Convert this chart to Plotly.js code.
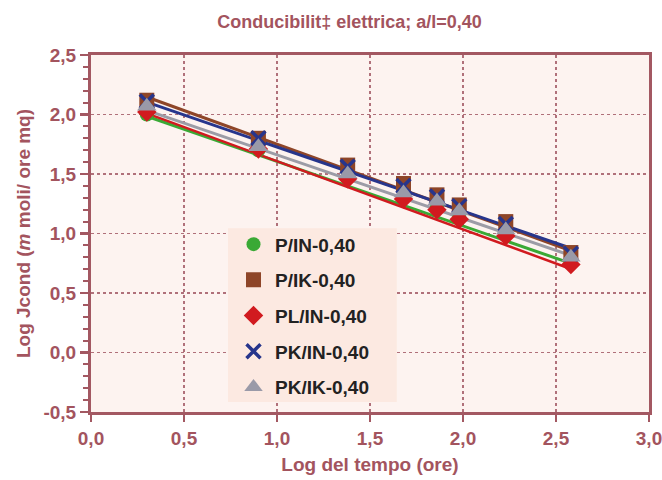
<!DOCTYPE html>
<html>
<head>
<meta charset="utf-8">
<script src="https://cdn.plot.ly/plotly-3.0.1.min.js"></script>
<style>html,body{margin:0;padding:0;background:#fff;}#chart{width:662px;height:480px;}</style>
</head>
<body>
<div id="chart"></div>
<script>
// Data
var logTempo = [0.30, 0.90, 1.38, 1.68, 1.86, 1.98, 2.23, 2.58];
var seriesNames = ["P/IN-0,40", "P/IK-0,40", "PL/IN-0,40", "PK/IN-0,40", "PK/IK-0,40"];
var P_IN  = [2.00, 1.70, 1.47, 1.31, 1.22, 1.14, 1.00, 0.76];
var P_IK  = [2.12, 1.80, 1.575, 1.42, 1.325, 1.24, 1.10, 0.84];
var PL_IN = [2.02, 1.71, 1.46, 1.29, 1.20, 1.12, 0.98, 0.74];
var PK_IN = [2.11, 1.80, 1.56, 1.40, 1.31, 1.23, 1.08, 0.83];
var PK_IK = [2.07, 1.73, 1.50, 1.34, 1.27, 1.19, 1.03, 0.80];
// Trend line end points
var trendX = [0.30, 2.58];
var trend_P_IN  = [1.985, 0.749];
var trend_P_IK  = [2.147, 0.855];
var trend_PL_IN = [2.009, 0.702];
var trend_PK_IN = [2.104, 0.876];
var trend_PK_IK = [2.035, 0.815];
var xTicks = [0, 0.5, 1, 1.5, 2, 2.5, 3];
var xTickLabels = ["0,0", "0,5", "1,0", "1,5", "2,0", "2,5", "3,0"];
var yTicks = [-0.5, 0, 0.5, 1, 1.5, 2, 2.5];
var yTickLabels = ["-0,5", "0,0", "0,5", "1,0", "1,5", "2,0", "2,5"];

var seriesY = [P_IN, P_IK, PL_IN, PK_IN, PK_IK];
var trendY = [trend_P_IN, trend_P_IK, trend_PL_IN, trend_PK_IN, trend_PK_IK];
var colors = ["#3aa935", "#8e4528", "#d11a1f", "#27358c", "#9a9aa8"];
var lineColors = ["#3aa935", "#8e4528", "#d11a1f", "#27358c", "#9c9ca6"];
var lineWidths = [3, 3, 2.5, 3, 3];
var symbols = ["circle", "square", "diamond", "x-thin-open", "triangle-up"];
var sizes = [14, 15, 15, 14, 17];

var traces = [];
for (var i = 0; i < 5; i++) {
  traces.push({
    x: trendX, y: trendY[i], mode: "lines", type: "scatter",
    line: {color: lineColors[i], width: lineWidths[i]},
    showlegend: false, hoverinfo: "skip"
  });
}
for (var j = 0; j < 5; j++) {
  var mk = {symbol: symbols[j], size: sizes[j], color: colors[j]};
  if (symbols[j] === "x-thin-open") { mk.line = {color: colors[j], width: 3.5}; }
  else { mk.line = {width: 0}; }
  traces.push({
    x: logTempo, y: seriesY[j], mode: "markers", type: "scatter",
    name: seriesNames[j], legendgroup: "g" + j,
    marker: mk
  });
}

var axisColor = "#a35862";
var txtColor = "#a3545e";
var fontFam = "'Liberation Sans', Arial, sans-serif";

var layout = {
  width: 662, height: 480,
  margin: {l: 91, r: 13, t: 55, b: 68},
  paper_bgcolor: "#ffffff",
  plot_bgcolor: "#fdf3f0",
  showlegend: true,
  title: {
    text: "Conducibilit‡ elettrica; a/l=0,40",
    font: {family: fontFam, size: 18, color: txtColor, weight: 700},
    x: 0.528, xanchor: "center", y: 0.954, yanchor: "middle"
  },
  xaxis: {
    range: [0, 3], tickvals: xTicks, ticktext: xTickLabels,
    ticklabeloverflow: "allow",
    showgrid: true, gridcolor: "#b0707a", griddash: "dot", gridwidth: 1.5,
    zeroline: false, showline: true, linecolor: axisColor, linewidth: 3, mirror: true,
    ticks: "outside", ticklen: 7, tickwidth: 2.5, tickcolor: axisColor,
    tickfont: {family: fontFam, size: 19, color: txtColor, weight: 700},
    title: {text: "Log del tempo (ore)", font: {family: fontFam, size: 19, color: txtColor, weight: 700}, standoff: 10}
  },
  yaxis: {
    range: [-0.5, 2.5], tickvals: yTicks, ticktext: yTickLabels,
    showgrid: true, gridcolor: "#b0707a", griddash: "dot", gridwidth: 1.5,
    zeroline: false, showline: true, linecolor: axisColor, linewidth: 3, mirror: true,
    ticks: "outside", ticklen: 8, tickwidth: 2.5, tickcolor: axisColor,
    minor: {dtick: 0.1, ticks: "outside", ticklen: 5, tickwidth: 2, tickcolor: axisColor, showgrid: false},
    tickfont: {family: fontFam, size: 19, color: txtColor, weight: 700},
    title: {text: "Log Jcond (<i>m</i> moli/ ore mq)", font: {family: fontFam, size: 19, color: txtColor, weight: 700}, standoff: 8}
  },
  shapes: [{
    type: "rect", xref: "paper", yref: "paper", layer: "above",
    x0: 0.2455, x1: 0.548, y0: 0.028, y1: 0.515,
    fillcolor: "#fce9e1", line: {width: 0}
  }],
  legend: {
    x: 0.2527, y: 0.523, xanchor: "left", yanchor: "top",
    bgcolor: "rgba(0,0,0,0)", borderwidth: 0,
    font: {family: fontFam, size: 19, color: "#222222", weight: 700},
    tracegroupgap: 8, itemwidth: 33,
    traceorder: "grouped"
  }
};

Plotly.newPlot("chart", traces, layout, {displayModeBar: false, staticPlot: true});
</script>
</body>
</html>
